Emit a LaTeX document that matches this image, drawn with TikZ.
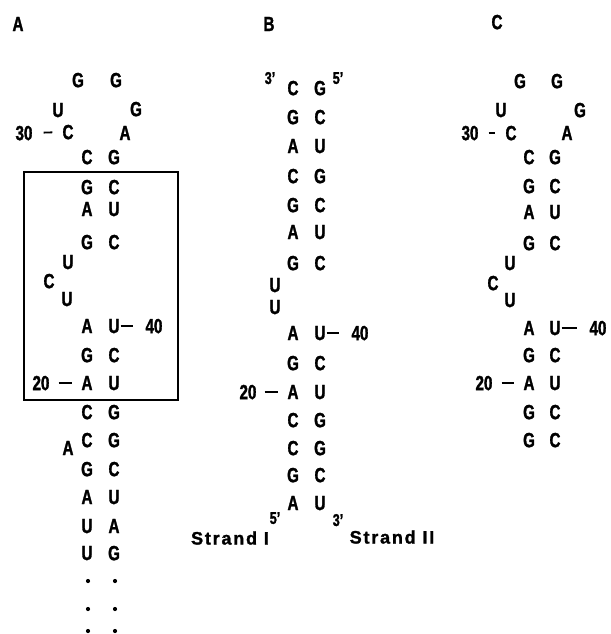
\documentclass[tikz,border=0pt]{standalone}
\usepackage{fontspec}
\setmainfont{Liberation Sans}[FakeStretch=0.74, BoldFeatures={FakeBold=1.5}]
\newfontfamily\strandfont{Liberation Sans}[LetterSpace=10, BoldFeatures={FakeBold=1.5}]
\usetikzlibrary{positioning}
\tikzset{
  base/.style={font=\fontsize{20.5}{20}\selectfont\bfseries, inner sep=0pt, text depth=0pt},
  numlab/.style={base},
  panel/.style={base},
  prime/.style={font=\fontsize{17}{17}\selectfont\bfseries, inner sep=0pt, text depth=0pt},
  strand/.style={font=\strandfont\fontsize{18}{18}\selectfont\bfseries, inner sep=0pt, text depth=0pt},
  tick/.style={line width=1.8pt},
  dot/.style={circle, fill=black, inner sep=0pt, minimum size=4.2pt},
  frame/.style={draw, line width=1.6pt}
}

\begin{document}
\begin{tikzpicture}[x=1pt, y=-1pt]
  \useasboundingbox (0,0) rectangle (610,634);

  % panel A
  \node[panel] (labA) at (18,24) {A};
  \node[base] (aG1) at (78,80) {G};
  \node[base] (aG2) at (116,80) {G};
  \node[base] (aU1) at (58,110) {U};
  \node[base] (aG3) at (136,109) {G};
  \node[base] (aC1) at (68,132) {C};
  \node[base] (aA1) at (125,133) {A};
  \foreach \y/\l/\r [count=\i] in {157/C/G,187/G/C,209/A/U,242/G/C,326/A/U,355/G/C,383/A/U,
      412/C/G,440/C/G,469/G/C,497/A/U,526/U/A,553/U/G}{
    \node[base] (aL\i) at (87,\y) {\l};
    \node[base] (aR\i) at (114,\y) {\r};
  }
  \node[base] (aU2) at (68,262) {U};
  \node[base] (aC2) at (49,281) {C};
  \node[base] (aU3) at (67,299) {U};
  \node[base] (aA2) at (68,448) {A};
  \node[numlab] (a30) at (24,133) {30};
  \node[numlab] (a20) at (41,383) {20};
  \node[numlab] (a40) at (154,326) {40};
  \draw[tick, shorten <=11pt, shorten >=10pt] (a30.east) -- (aC1.west);
  \draw[tick, shorten <=9pt, shorten >=9pt] (a20.east) -- (aL7.west);
  \draw[tick, shorten <=1pt, shorten >=12pt] (aR5.east) -- (a40.west);
  \draw[frame] (24,172) rectangle (178,400);
  \foreach \y [count=\i] in {581,609,631}{
    \node[dot] (aDL\i) at (88,\y) {};
    \node[dot] (aDR\i) at (115,\y) {};
  }

  % panel B
  \node[panel] (labB) at (269,24) {B};
  \node[prime] (b3t) at (270,78) {3'};
  \node[prime] (b5t) at (338,78) {5'};
  \foreach \y/\l/\r [count=\i] in {88/C/G,117/G/C,146/A/U,176/C/G,205/G/C,232/A/U,263/G/C,
      333/A/U,363/G/C,392/A/U,420/C/G,448/C/G,475/G/C,503/A/U}{
    \node[base] (bL\i) at (293,\y) {\l};
    \node[base] (bR\i) at (320,\y) {\r};
  }
  \node[base] (bU1) at (275,285) {U};
  \node[base] (bU2) at (275,307) {U};
  \node[numlab] (b20) at (248,392) {20};
  \node[numlab] (b40) at (360,333) {40};
  \draw[tick, shorten <=8pt, shorten >=9pt] (b20.east) -- (bL10.west);
  \draw[tick, shorten <=1pt, shorten >=12pt] (bR8.east) -- (b40.west);
  \node[prime] (b5b) at (275,518) {5'};
  \node[prime] (b3b) at (338,520) {3'};
  \node[strand] (strI) at (230,538) {Strand I};
  \node[strand] (strII) at (392,537) {Strand II};

  % panel C
  \node[panel] (labC) at (497,22) {C};
  \node[base] (cG1) at (520,81) {G};
  \node[base] (cG2) at (557,81) {G};
  \node[base] (cU1) at (501,110) {U};
  \node[base] (cG3) at (580,110) {G};
  \node[base] (cC1) at (511,133) {C};
  \node[base] (cA1) at (567,133) {A};
  \foreach \y/\l/\r [count=\i] in {157/C/G,186/G/C,212/A/U,243/G/C,328/A/U,355/G/C,383/A/U,
      412/G/C,440/G/C}{
    \node[base] (cL\i) at (529,\y) {\l};
    \node[base] (cR\i) at (555,\y) {\r};
  }
  \node[base] (cU2) at (510,263) {U};
  \node[base] (cC2) at (493,283) {C};
  \node[base] (cU3) at (510,300) {U};
  \node[numlab] (c30) at (470,133) {30};
  \node[numlab] (c20) at (484,383) {20};
  \node[numlab] (c40) at (598,328) {40};
  \draw[tick, shorten <=10pt, shorten >=10pt] (c30.east) -- (cC1.west);
  \draw[tick, shorten <=9pt, shorten >=9pt] (c20.east) -- (cL7.west);
  \draw[tick, shorten <=1pt, shorten >=12pt] (cR5.east) -- (c40.west);
\end{tikzpicture}
\end{document}
